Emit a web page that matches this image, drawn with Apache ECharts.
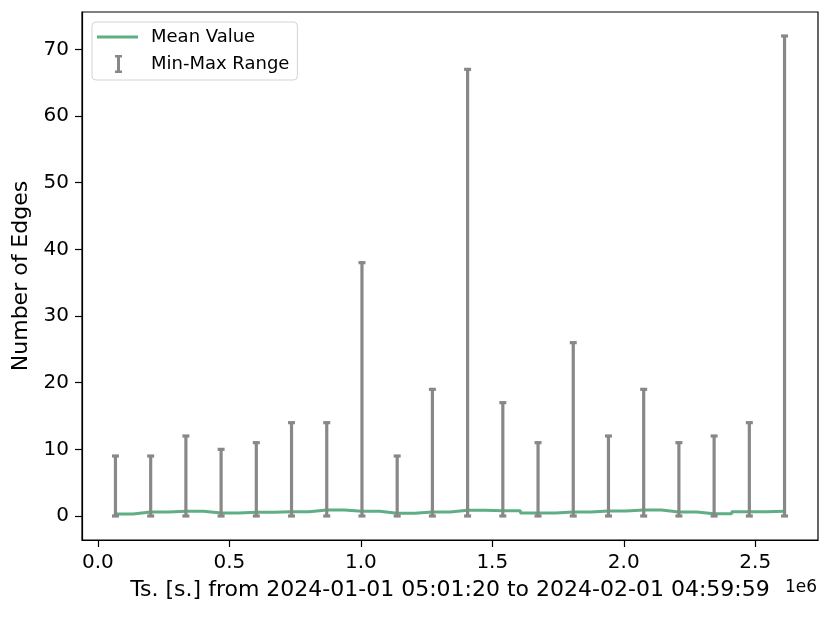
<meta charset="UTF-8"/>
<script src="https://cdn.jsdelivr.net/npm/echarts@6/dist/echarts.min.js"></script>
<style type="text/css">
	html, body { margin:0; padding:0; background:#fff; }
	#chart { width:831px; height:617px; }
</style>
<div id="chart"></div>
<script type="text/javascript">

// bin centres in seconds
var binCenters = [66958, 200874, 334790, 468706, 602622, 736538, 870454, 1004370, 1138286, 1272202,
                  1406118, 1540034, 1673950, 1807866, 1941782, 2075698, 2209614, 2343530, 2477446, 2611362];
var meanValues = [0.3, 0.6, 0.7, 0.45, 0.55, 0.65, 0.9, 0.7, 0.4, 0.6,
                  0.85, 0.8, 0.45, 0.6, 0.75, 0.9, 0.6, 0.35, 0.65, 0.7];
var minValues  = [0, 0, 0, 0, 0, 0, 0, 0, 0, 0, 0, 0, 0, 0, 0, 0, 0, 0, 0, 0];
var maxValues  = [9, 9, 12, 10, 11, 14, 14, 38, 9, 19, 67, 17, 11, 26, 12, 19, 11, 12, 14, 72];
var xTicks = [0, 500000, 1000000, 1500000, 2000000, 2500000];
var yTicks = [0, 10, 20, 30, 40, 50, 60, 70];

var xMin = -60262, xMax = 2738582;
var yMin = -3.6, yMax = 75.6;

var FONT = 'DejaVu Sans';
var GREEN = '#5fae84';
var GREY = '#888888';

var meanData = [];
var rangeData = [];
for (var i = 0; i < binCenters.length; i++) {
	meanData.push([binCenters[i], meanValues[i]]);
	rangeData.push([binCenters[i], minValues[i], maxValues[i]]);
}

function renderRange(params, api) {
	var lo = api.coord([api.value(0), api.value(1)]);
	var hi = api.coord([api.value(0), api.value(2)]);
	var cap = 3.5;
	var st = { stroke: GREY, lineWidth: 3.2 };
	return {
		type: 'group',
		children: [
			{ type: 'line', shape: { x1: lo[0], y1: lo[1], x2: hi[0], y2: hi[1] }, style: st },
			{ type: 'line', shape: { x1: lo[0] - cap, y1: lo[1], x2: lo[0] + cap, y2: lo[1] }, style: st },
			{ type: 'line', shape: { x1: hi[0] - cap, y1: hi[1], x2: hi[0] + cap, y2: hi[1] }, style: st }
		]
	};
}

var chart = echarts.init(document.getElementById('chart'), null, { renderer: 'canvas' });

var option = {
	animation: false,
	backgroundColor: '#ffffff',
	textStyle: { fontFamily: FONT },
	grid: {
		left: 82, right: 13, top: 12, bottom: 77,
		show: true, borderColor: '#000', borderWidth: 1.2
	},
	legend: {
		orient: 'vertical',
		left: 92, top: 22,
		padding: [5, 8, 6, 5],
		itemWidth: 41, itemHeight: 20, itemGap: 7,
		borderColor: '#d3d3d3', borderWidth: 1, borderRadius: 4,
		backgroundColor: 'rgba(255,255,255,0.8)',
		textStyle: { fontFamily: FONT, fontSize: 18, color: '#000', padding: [0, 0, 0, 8] },
		data: [
			{ name: 'Mean Value', icon: 'path://M0,0L0,0ZM41,20L41,20ZM0,8.5H41V11.5H0Z', itemStyle: { color: GREEN } },
			{ name: 'Min-Max Range', icon: 'path://M0,0L0,0ZM41,20L41,20ZM18,1H25V3.5H23V16.5H25V19H18V16.5H20V3.5H18Z', itemStyle: { color: GREY } }
		]
	},
	xAxis: {
		type: 'value',
		min: xMin, max: xMax,
		name: 'Ts. [s.] from 2024-01-01 05:01:20 to 2024-02-01 04:59:59',
		nameLocation: 'middle', nameGap: 39,
		nameTextStyle: { fontFamily: FONT, fontSize: 22, color: '#000' },
		splitLine: { show: false },
		axisLine: { show: true, onZero: false, lineStyle: { color: '#000', width: 1.2 } },
		axisTick: { show: true, length: 7, customValues: xTicks, lineStyle: { color: '#000', width: 1.2 } },
		axisLabel: {
			customValues: xTicks, margin: 13,
			fontFamily: FONT, fontSize: 20, color: '#000',
			formatter: function (v) { return (v / 1e6).toFixed(1); }
		}
	},
	yAxis: {
		type: 'value',
		min: yMin, max: yMax,
		name: 'Number of Edges',
		nameLocation: 'middle', nameGap: 46,
		nameTextStyle: { fontFamily: FONT, fontSize: 22, color: '#000' },
		splitLine: { show: false },
		axisLine: { show: true, onZero: false, lineStyle: { color: '#000', width: 1.2 } },
		axisTick: { show: true, length: 7, customValues: yTicks, lineStyle: { color: '#000', width: 1.2 } },
		axisLabel: {
			customValues: yTicks, margin: 13,
			fontFamily: FONT, fontSize: 20, color: '#000',
			formatter: function (v) { return String(Math.round(v)); }
		}
	},
	graphic: [{
		type: 'text', right: 14, top: 579,
		style: { text: '1e6', fontFamily: FONT, fontSize: 17, fill: '#000' }
	}],
	series: [
		{
			name: 'Mean Value',
			type: 'line',
			step: 'middle',
			data: meanData,
			showSymbol: false,
			symbol: 'none',
			z: 2,
			lineStyle: { color: GREEN, width: 3 },
			itemStyle: { color: GREEN }
		},
		{
			name: 'Min-Max Range',
			type: 'custom',
			renderItem: renderRange,
			data: rangeData,
			encode: { x: 0, y: [1, 2] },
			z: 3,
			itemStyle: { color: GREY }
		}
	]
};

chart.setOption(option);
</script>
